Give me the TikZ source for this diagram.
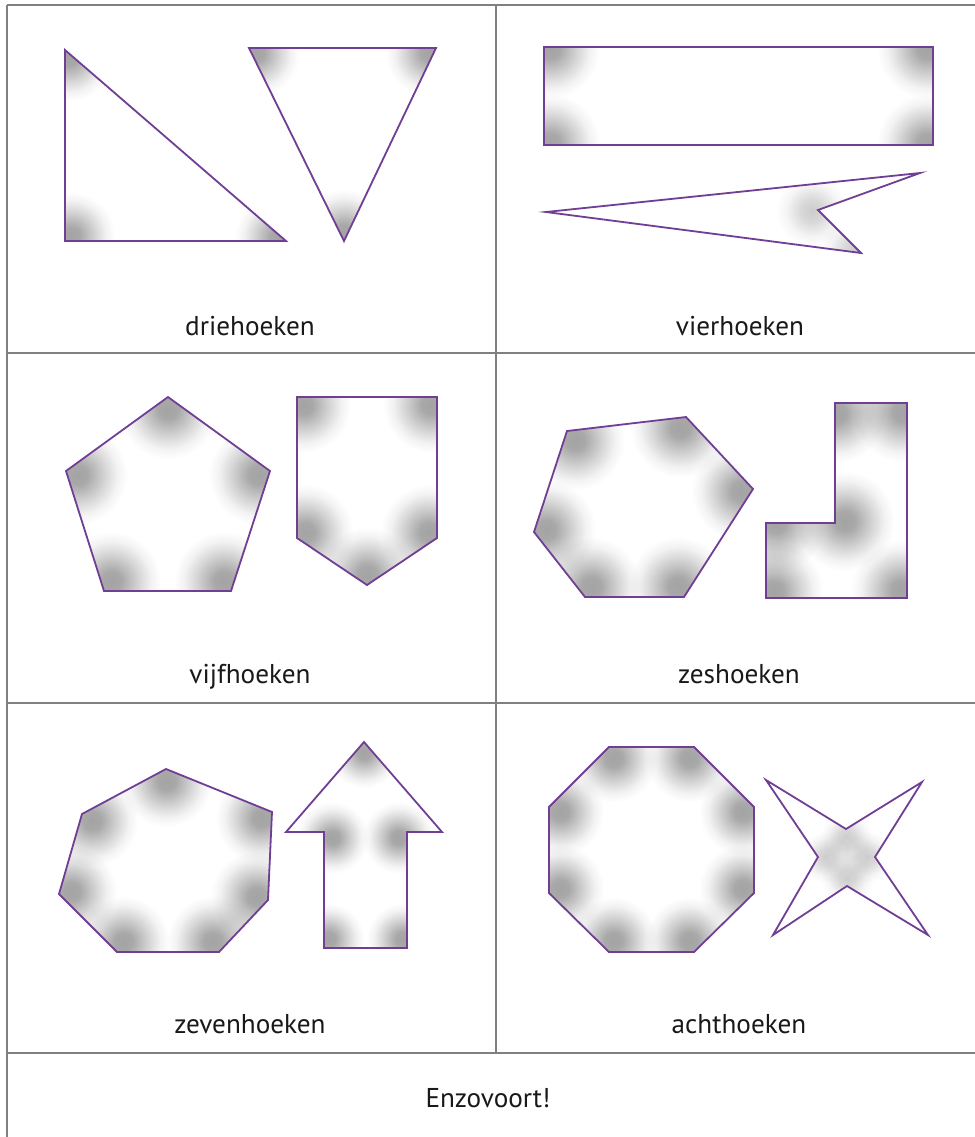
\documentclass[tikz,border=0pt]{standalone}
\usepackage{fontspec}
\setmainfont{PT Sans}
\usetikzlibrary{calc}
\definecolor{shapepurple}{RGB}{112,62,148}
\definecolor{gridgray}{RGB}{128,128,128}
\definecolor{labeltext}{RGB}{25,25,25}
\pgfdeclareradialshading{cornerblob}{\pgfpointorigin}{color(0bp)=(black!36); color(5bp)=(black!34); color(14bp)=(black!16); color(20bp)=(black!5); color(25bp)=(white); color(50bp)=(white)}
\pgfdeclareradialshading{softblob}{\pgfpointorigin}{color(0bp)=(black!20); color(8bp)=(black!15); color(18bp)=(black!4); color(25bp)=(white); color(50bp)=(white)}
\tikzset{
  gridline/.style={draw=gridgray, line width=0.9pt},
  shapeline/.style={draw=shapepurple, line width=0.9pt, line join=miter},
  blobshade/.style={shading=cornerblob, blend mode=multiply},
  softshade/.style={shading=softblob, blend mode=multiply},
  caption/.style={font=\fontsize{13.6}{16}\selectfont, text=labeltext, inner sep=0pt, anchor=base}
}
% #1 path, #2 blob vertices x/y, #3 centroid, #4 shift, #5 radius, #6 shade style
\newcommand{\glowshape}[6][blobshade]{%
  \begin{scope}
    \clip #2;
    \foreach \vx/\vy in {#3}{\shade[#1] ($(\vx,\vy)!#5!(#4)$) circle (#6);}
  \end{scope}
  \draw[shapeline] #2;
}
\begin{document}
\begin{tikzpicture}[x=0.5pt,y=-0.5pt]
\useasboundingbox (0,0) rectangle (975,1137);
\fill[white] (0,0) rectangle (975,1137);

% grid
\coordinate (tl) at (7,5);
\coordinate (tr) at (975,5);
\coordinate (bl) at (7,1137);
\coordinate (h1l) at (7,353);  \coordinate (h1r) at (975,353);
\coordinate (h2l) at (7,703);  \coordinate (h2r) at (975,703);
\coordinate (h3l) at (7,1053); \coordinate (h3r) at (975,1053);
\coordinate (vt) at (496,5);   \coordinate (vb) at (496,1053);
\draw[gridline] (tl) -- (tr);
\draw[gridline] (tl) -- (bl);
\draw[gridline] (h1l) -- (h1r);
\draw[gridline] (h2l) -- (h2r);
\draw[gridline] (h3l) -- (h3r);
\draw[gridline] (vt) -- (vb);

% panel 1: driehoeken
\glowshape{(65,50) -- (65,241) -- (286,241) -- cycle}{65/50,65/241,286/241}{139,177}{4pt}{44}
\glowshape{(249,48) -- (436,48) -- (344,241) -- cycle}{249/48,436/48,344/241}{343,112}{4pt}{44}
\node[caption] (lab1) at (250,335) {driehoeken};

% panel 2: vierhoeken
\glowshape{(544,47) -- (933,47) -- (933,145) -- (544,145) -- cycle}{544/47,933/47,933/145,544/145}{738,96}{3pt}{50}
\glowshape[softshade]{(546,212) -- (920,173) -- (818,210) -- (861,253) -- cycle}{818/210,861/253}{780,215}{3pt}{36}
\node[caption] (lab2) at (740,335) {vierhoeken};

% panel 3: vijfhoeken
\glowshape{(168,397) -- (270,471) -- (231,591) -- (104,591) -- (66,471) -- cycle}{168/397,270/471,231/591,104/591,66/471}{168,504}{6pt}{50}
\glowshape{(297,397) -- (437,397) -- (437,538) -- (367,585) -- (297,538) -- cycle}{297/397,437/397,437/538,367/585,297/538}{367,490}{5pt}{48}
\node[caption] (lab3) at (250,683) {vijfhoeken};

% panel 4: zeshoeken
\glowshape{(567,431) -- (686,417) -- (753,489) -- (684,597) -- (585,597) -- (534,532) -- cycle}{567/431,686/417,753/489,684/597,585/597,534/532}{636,510}{6pt}{50}
\glowshape{(835,403) -- (907,403) -- (907,598) -- (766,598) -- (766,523) -- (835,523) -- cycle}{835/403,907/403,907/598,766/598,766/523,835/523}{850,520}{5pt}{50}
\node[caption] (lab4) at (739,683) {zeshoeken};

% panel 5: zevenhoeken
\glowshape{(166,769) -- (272,812) -- (268,900) -- (219,952) -- (117,952) -- (59,894) -- (82,814) -- cycle}{166/769,272/812,268/900,219/952,117/952,59/894,82/814}{169,870}{6pt}{46}
\glowshape{(364,742) -- (442,832) -- (407,832) -- (407,948) -- (324,948) -- (324,832) -- (286,832) -- cycle}{364/742,407/832,407/948,324/948,324/832}{364,860}{5pt}{36}
\node[caption] (lab5) at (250,1033) {zevenhoeken};

% panel 6: achthoeken
\glowshape{(609,747) -- (694,747) -- (754,807) -- (754,893) -- (694,952) -- (609,952) -- (549,893) -- (549,807) -- cycle}{609/747,694/747,754/807,754/893,694/952,609/952,549/893,549/807}{651,850}{6pt}{44}
\glowshape[softshade]{(766,780) -- (846,829) -- (922,782) -- (875,857) -- (928,935) -- (847,886) -- (773,935) -- (818,857) -- cycle}{846/829,875/857,847/886,818/857}{847,857}{4pt}{26}
\node[caption] (lab6) at (739,1033) {achthoeken};

% bottom row
\node[caption] (lab7) at (488,1107) {Enzovoort!};
\end{tikzpicture}
\end{document}
